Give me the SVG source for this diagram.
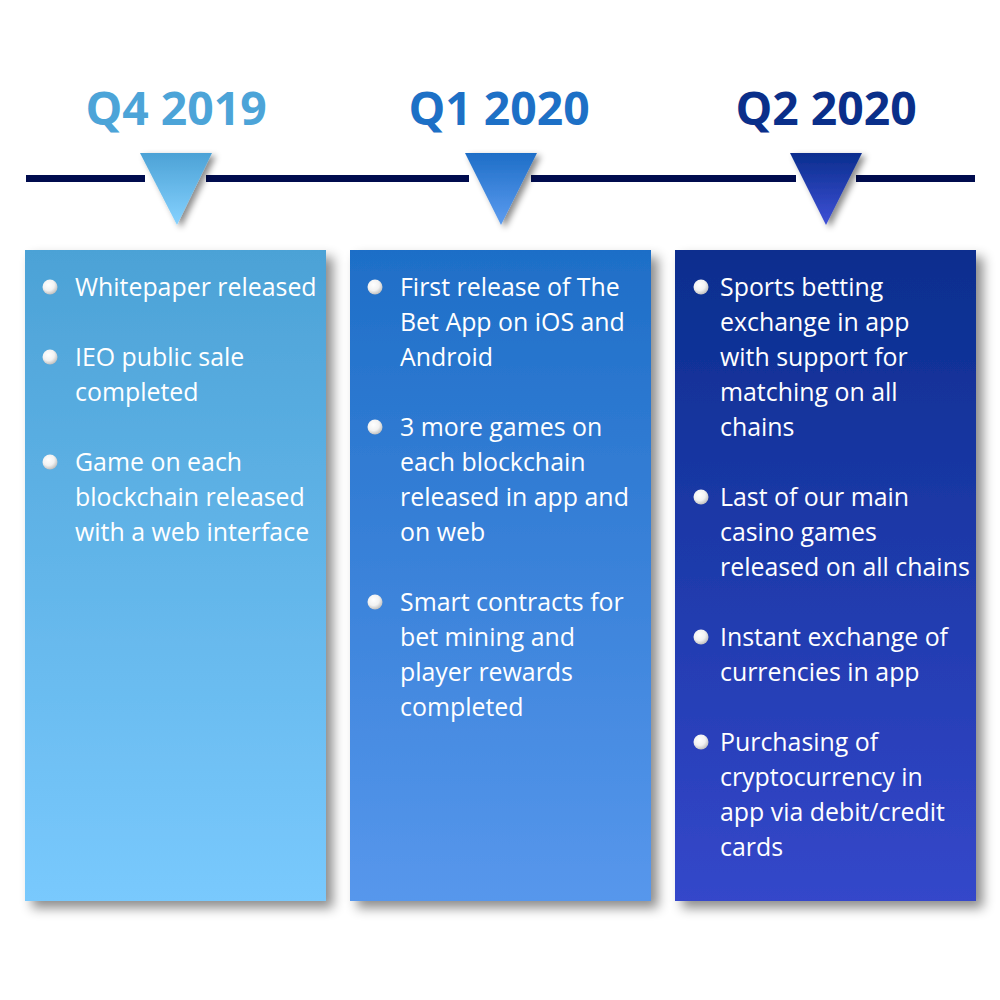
<svg xmlns="http://www.w3.org/2000/svg" width="1000" height="1000" viewBox="0 0 1000 1000">
  <defs>
    <style>
      .hdr { font-family: "Open Sans", "Liberation Sans", sans-serif; font-weight: 700; font-size: 46.3px; text-anchor: middle; }
      .item { font-family: "Open Sans", "Liberation Sans", sans-serif; font-size: 24.9px; fill: #ffffff; }
      .axis { stroke: #000c4e; stroke-width: 7; }
    </style>
    <filter id="shadow" x="-10%" y="-10%" width="130%" height="130%">
      <feDropShadow dx="7" dy="7" stdDeviation="6" flood-color="#000000" flood-opacity="0.45"/>
    </filter>
    <filter id="triShadow" x="-30%" y="-30%" width="160%" height="160%">
      <feDropShadow dx="4" dy="3" stdDeviation="3" flood-color="#000000" flood-opacity="0.45"/>
    </filter>
    <linearGradient id="g1" x1="0" y1="0" x2="0" y2="1">
      <stop offset="0" stop-color="#4ca2d6"/>
      <stop offset="1" stop-color="#79c9fd"/>
    </linearGradient>
    <linearGradient id="g2" x1="0" y1="0" x2="0" y2="1">
      <stop offset="0" stop-color="#1e6ec7"/>
      <stop offset="1" stop-color="#5797ec"/>
    </linearGradient>
    <linearGradient id="g3" x1="0" y1="0" x2="0" y2="1">
      <stop offset="0" stop-color="#0a2e8e"/>
      <stop offset="1" stop-color="#3447ca"/>
    </linearGradient>
    <linearGradient id="t1" x1="0" y1="0" x2="0" y2="1">
      <stop offset="0" stop-color="#4ca2d6"/>
      <stop offset="1" stop-color="#86d2ff"/>
    </linearGradient>
    <linearGradient id="t2" x1="0" y1="0" x2="0" y2="1">
      <stop offset="0" stop-color="#1e6ec7"/>
      <stop offset="1" stop-color="#5c9cf0"/>
    </linearGradient>
    <linearGradient id="t3" x1="0" y1="0" x2="0" y2="1">
      <stop offset="0" stop-color="#0a2e8e"/>
      <stop offset="1" stop-color="#3f50d6"/>
    </linearGradient>
    <radialGradient id="dot" cx="0.4" cy="0.35" r="0.7">
      <stop offset="0" stop-color="#ffffff"/>
      <stop offset="0.55" stop-color="#f2f2f2"/>
      <stop offset="1" stop-color="#b8b8b8"/>
    </radialGradient>
    <circle id="bullet" r="7.5" fill="url(#dot)"/>
  </defs>

  <rect width="1000" height="1000" fill="#ffffff"/>

  <!-- timeline axis, broken around each marker -->
  <g id="connectors">
    <line class="axis" x1="26" y1="178.5" x2="145" y2="178.5"/>
    <line class="axis" x1="206" y1="178.5" x2="469" y2="178.5"/>
    <line class="axis" x1="531" y1="178.5" x2="796" y2="178.5"/>
    <line class="axis" x1="856" y1="178.5" x2="975" y2="178.5"/>
  </g>

  <!-- Q4 2019 -->
  <g id="q4-2019">
    <text class="hdr" x="176" y="125" fill="#4ca4d8">Q4 2019</text>
    <polygon points="140,153 212,153 177,225" fill="url(#t1)" filter="url(#triShadow)"/>
    <rect x="25" y="250" width="301" height="651" fill="url(#g1)" filter="url(#shadow)"/>
    <use href="#bullet" x="50" y="287"/>
    <use href="#bullet" x="50" y="357"/>
    <use href="#bullet" x="50" y="462"/>
    <text class="item" x="75" y="296">Whitepaper released</text>
    <text class="item" x="75" y="366">IEO public sale</text>
    <text class="item" x="75" y="401">completed</text>
    <text class="item" x="75" y="471">Game on each</text>
    <text class="item" x="75" y="506">blockchain released</text>
    <text class="item" x="75" y="541">with a web interface</text>
  </g>

  <!-- Q1 2020 -->
  <g id="q1-2020">
    <text class="hdr" x="499" y="125" fill="#1d70c6">Q1 2020</text>
    <polygon points="465,153 537,153 501,225" fill="url(#t2)" filter="url(#triShadow)"/>
    <rect x="350" y="250" width="301" height="651" fill="url(#g2)" filter="url(#shadow)"/>
    <use href="#bullet" x="375" y="287"/>
    <use href="#bullet" x="375" y="427"/>
    <use href="#bullet" x="375" y="602"/>
    <text class="item" x="400" y="296">First release of The</text>
    <text class="item" x="400" y="331">Bet App on iOS and</text>
    <text class="item" x="400" y="366">Android</text>
    <text class="item" x="400" y="436">3 more games on</text>
    <text class="item" x="400" y="471">each blockchain</text>
    <text class="item" x="400" y="506">released in app and</text>
    <text class="item" x="400" y="541">on web</text>
    <text class="item" x="400" y="611">Smart contracts for</text>
    <text class="item" x="400" y="646">bet mining and</text>
    <text class="item" x="400" y="681">player rewards</text>
    <text class="item" x="400" y="716">completed</text>
  </g>

  <!-- Q2 2020 -->
  <g id="q2-2020">
    <text class="hdr" x="826" y="125" fill="#0a2f8a">Q2 2020</text>
    <polygon points="790,153 862,153 826,225" fill="url(#t3)" filter="url(#triShadow)"/>
    <rect x="675" y="250" width="301" height="651" fill="url(#g3)" filter="url(#shadow)"/>
    <use href="#bullet" x="701" y="287"/>
    <use href="#bullet" x="701" y="497"/>
    <use href="#bullet" x="701" y="637"/>
    <use href="#bullet" x="701" y="742"/>
    <text class="item" x="720" y="296">Sports betting</text>
    <text class="item" x="720" y="331">exchange in app</text>
    <text class="item" x="720" y="366">with support for</text>
    <text class="item" x="720" y="401">matching on all</text>
    <text class="item" x="720" y="436">chains</text>
    <text class="item" x="720" y="506">Last of our main</text>
    <text class="item" x="720" y="541">casino games</text>
    <text class="item" x="720" y="576">released on all chains</text>
    <text class="item" x="720" y="646">Instant exchange of</text>
    <text class="item" x="720" y="681">currencies in app</text>
    <text class="item" x="720" y="751">Purchasing of</text>
    <text class="item" x="720" y="786">cryptocurrency in</text>
    <text class="item" x="720" y="821">app via debit/credit</text>
    <text class="item" x="720" y="856">cards</text>
  </g>
</svg>
